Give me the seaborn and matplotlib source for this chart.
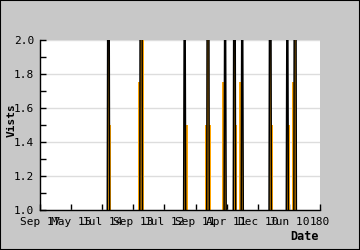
import numpy as np
import pandas as pd
import matplotlib
matplotlib.use("Agg")
import matplotlib.pyplot as plt
import seaborn as sns
from matplotlib.ticker import MultipleLocator, FixedLocator

# ---- data ----
n_days = 181
spike_days = [44, 65, 93, 108, 119, 125, 130, 148, 159, 164]
spike_visits = [4, 6, 3, 5, 3, 4, 3, 4, 3, 5]
shoulder_days = [45.0, 64.0, 66.0, 94.0, 107.0, 109.0, 118.0, 126.0, 129.0, 149.0, 160.0, 163.0]
shoulder_visits = [1.5, 1.75, 2.0, 1.5, 1.5, 1.5, 1.75, 1.5, 1.75, 1.5, 1.5, 1.75]
tick_pos = [0, 20, 40, 60, 80, 100, 120, 140, 160, 180]
tick_labels = ["Sep 17", "May 15", "Jul 14", "Sep 13", "Jul 12",
               "Sep 11", "Apr 11", "Dec 10", "Jun 10", "180"]

visits = np.zeros(n_days)
visits[spike_days] = spike_visits
df = pd.DataFrame({"day": np.arange(n_days), "visits": visits})

sns.set_theme(style="white")
plt.rcParams["font.family"] = ["DejaVu Sans Mono"]

W, H = 360, 250
fig = plt.figure(figsize=(W / 100, H / 100), dpi=100, facecolor="#c8c8c8")
ax = fig.add_axes([40 / W, 40 / H, 280 / W, 170 / H])
ax.set_facecolor("white")

orange = "#ffa500"
ax.bar(shoulder_days, shoulder_visits, width=1.7, color=orange, linewidth=0, zorder=2)
ax.fill_between(df["day"], df["visits"], color=orange, linewidth=0, zorder=2)
sns.lineplot(data=df, x="day", y="visits", color="black", linewidth=1.1, ax=ax, zorder=3)

ax.set_xlim(0, 180)
ax.set_ylim(1.0, 2.0)
ax.xaxis.set_major_locator(FixedLocator(tick_pos))
ax.set_xticklabels(tick_labels)
ax.yaxis.set_major_locator(MultipleLocator(0.2))
ax.yaxis.set_minor_locator(MultipleLocator(0.1))
ax.yaxis.set_major_formatter(matplotlib.ticker.FormatStrFormatter("%.1f"))
ax.yaxis.grid(True, which="major", color="#dddddd", linewidth=1)
ax.set_axisbelow(True)

ax.tick_params(axis="both", which="both", direction="in", length=4, width=1,
               color="black", labelsize=8, labelcolor="black")
ax.tick_params(axis="y", pad=4)
ax.tick_params(axis="x", pad=5)
ax.tick_params(axis="y", which="minor", left=True)
ax.tick_params(axis="x", bottom=True)
ax.tick_params(axis="y", left=True)

for s in ["top", "right"]:
    ax.spines[s].set_visible(False)
for s in ["left", "bottom"]:
    ax.spines[s].set_color("black")
    ax.spines[s].set_linewidth(1)

ax.set_xlabel("")
ax.set_ylabel("Vists", fontweight="bold", fontsize=8, color="black")
ax.yaxis.set_label_coords(-0.085, 0.53)
fig.text(319 / W, 1 - 236 / H, "Date", ha="right", va="center",
         fontweight="bold", fontsize=8.5, color="black")

fig.add_artist(plt.Rectangle((0, 0), 1, 1, transform=fig.transFigure,
                             fill=False, edgecolor="black", linewidth=1.5))

fig.savefig("out.png", dpi=100, facecolor=fig.get_facecolor())
